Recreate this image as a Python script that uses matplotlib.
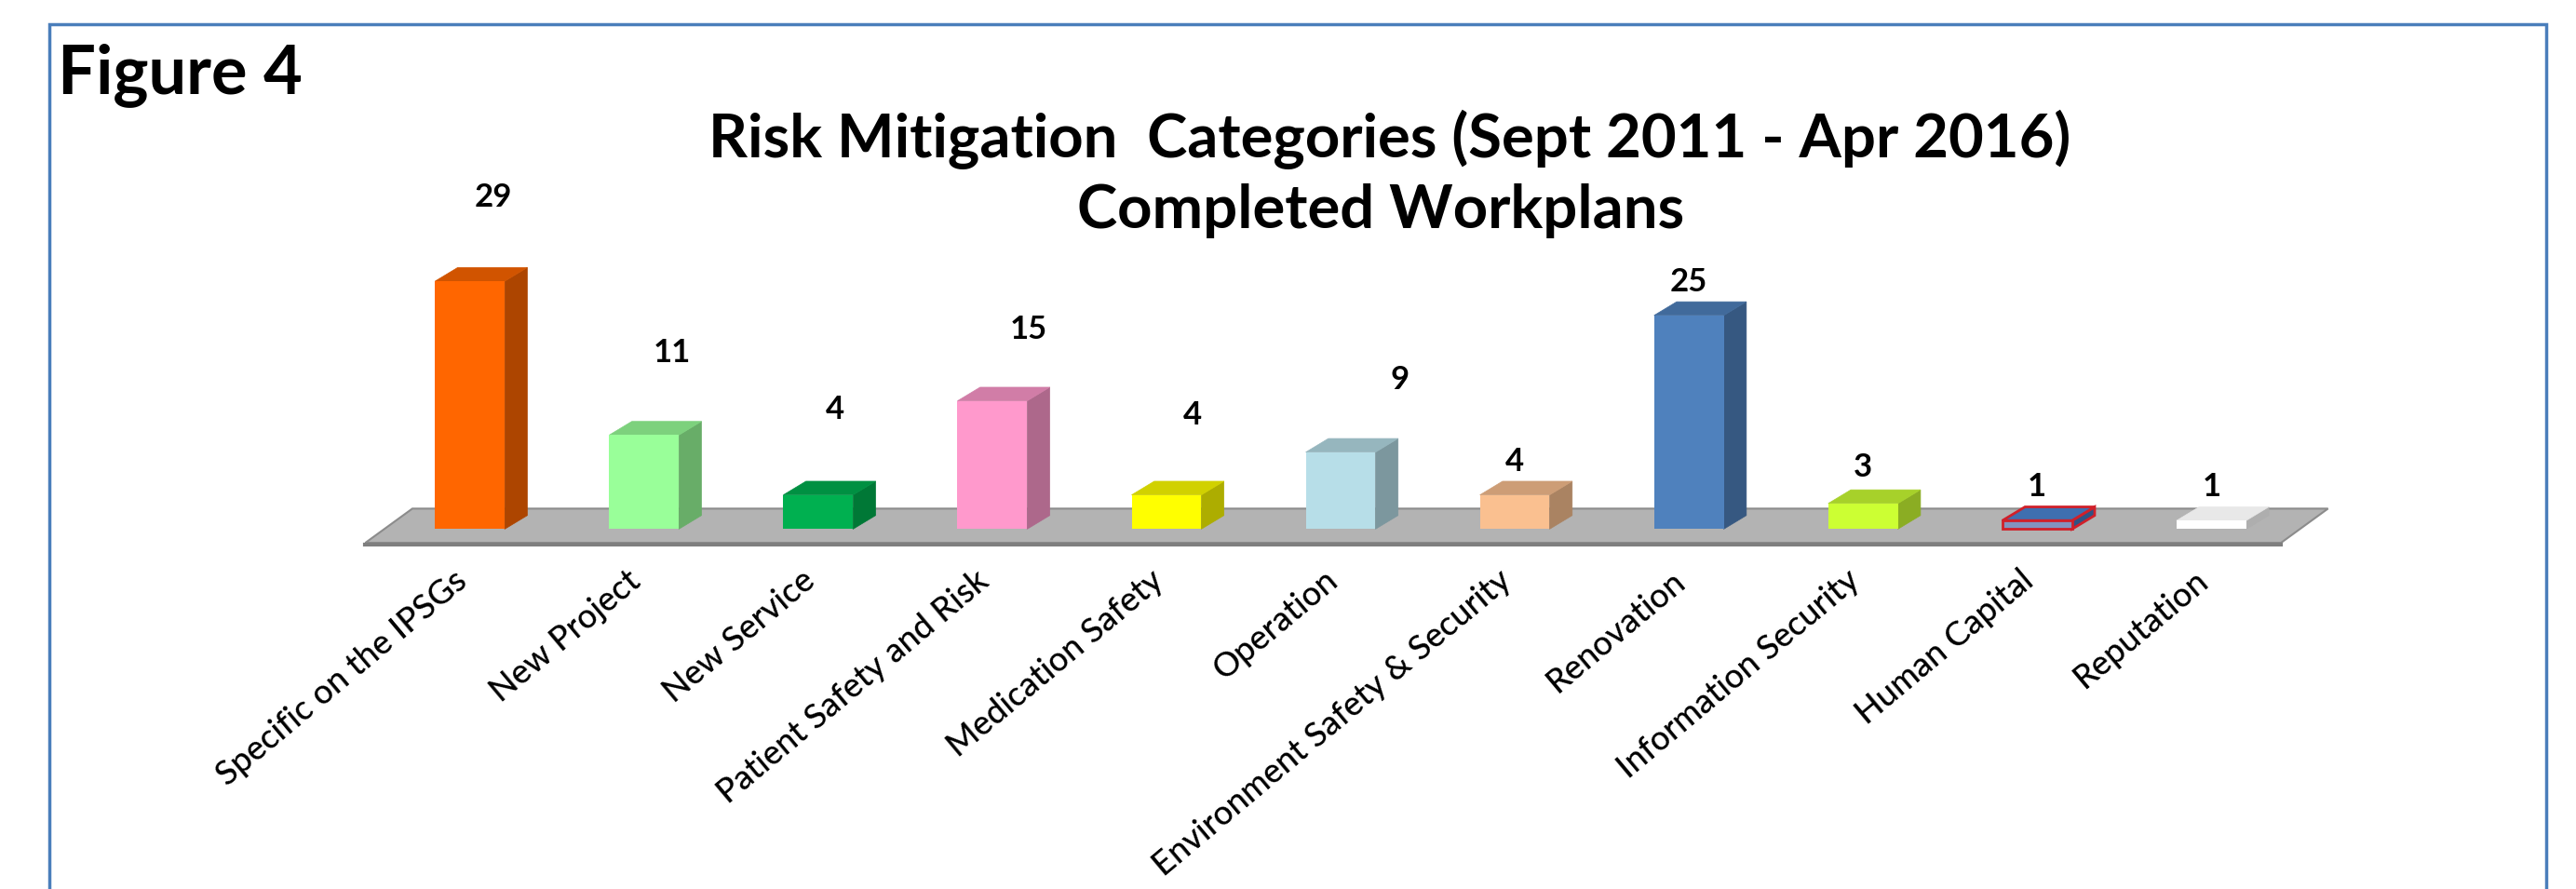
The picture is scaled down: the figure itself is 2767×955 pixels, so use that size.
import numpy as np
import matplotlib
matplotlib.use("Agg")
import matplotlib.pyplot as plt
from matplotlib.patches import Polygon, Rectangle
from matplotlib.colors import to_rgb

plt.rcParams['font.family'] = ['Lato', 'DejaVu Sans']

# data
categories = ["Specific on the IPSGs", "New Project", "New Service",
              "Patient Safety and Risk", "Medication Safety", "Operation",
              "Environment Safety & Security", "Renovation",
              "Information Security", "Human Capital", "Reputation"]
counts = [29, 11, 4, 15, 4, 9, 4, 25, 3, 1, 1]
colors = ["#FF6600", "#99FF99", "#00B050", "#FF99CC", "#FFFF00", "#B7DEE8",
          "#FAC090", "#4F81BD", "#CCFF33", "#8393BE", "#FFFFFF"]
top_colors = [None] * 9 + ["#3F6FB0", "#E8E8E8"]
edge_colors = [None] * 9 + ["#D0202A", None]
# label offsets in points (the source chart places them a bit loosely)
label_offsets = [(18, 65), (22, 64), (13, 66), (28, 55), (20, 62), (46, 56),
                 (0, 26), (0, 26), (0, 28), (0, 26), (0, 26)]

title1 = "Risk Mitigation  Categories (Sept 2011 - Apr 2016)"
title2 = "Completed Workplans"


def shade(c, f):
    r, g, b = to_rgb(c)
    return (r * f, g * f, b * f)


fig = plt.figure(figsize=(27.67, 9.55), dpi=100)
ax = fig.add_axes([0, 0, 1, 1])
ax.set_xlim(-2.698, 12.094)
ax.set_ylim(-42.1, 61.9)
ax.patch.set_visible(False)
for s in ax.spines.values():
    s.set_visible(False)
ax.set_yticks([])

n = len(categories)
x = np.arange(n)
width = 0.4
ddx, ddy = 0.13, 1.6     # bar depth
fdx, fdy = 0.27, 4.0     # floor depth

# floor
fy = -1.6
floor = Polygon([(-0.6, fy), (n - 0.6, fy), (n - 0.6 + fdx, fy + fdy),
                 (-0.6 + fdx, fy + fdy)], closed=True,
                facecolor="#B3B3B3", edgecolor="#8C8C8C", lw=1.5, zorder=1)
ax.add_patch(floor)
ax.plot([-0.6, n - 0.6], [fy - 0.25, fy - 0.25], color="#7F7F7F", lw=3, zorder=1)

# bars: front face via ax.bar, side and top faces as polygons
bars = ax.bar(x, counts, width=width, color=colors, zorder=3)
for b, c, tc, ec in zip(bars, colors, top_colors, edge_colors):
    x0 = b.get_x()
    x1 = x0 + b.get_width()
    h = b.get_height()
    side_c = shade(c, 0.68) if tc is None else shade(tc, 0.75)
    top_c = shade(c, 0.82) if tc is None else tc
    if ec is not None:
        b.set_edgecolor(ec)
        b.set_linewidth(2)
    side = Polygon([(x1, 0), (x1 + ddx, ddy), (x1 + ddx, h + ddy), (x1, h)],
                   closed=True, facecolor=side_c, edgecolor=ec or side_c,
                   lw=2 if ec else 0.5, zorder=2)
    top = Polygon([(x0, h), (x1, h), (x1 + ddx, h + ddy), (x0 + ddx, h + ddy)],
                  closed=True, facecolor=top_c, edgecolor=ec or top_c,
                  lw=2 if ec else 0.5, zorder=2)
    ax.add_patch(side)
    ax.add_patch(top)

# value labels
for xi, v, off in zip(x, counts, label_offsets):
    ax.annotate(str(v), (xi, v), xytext=off, textcoords="offset points",
                ha="center", va="center", fontsize=25, fontweight="bold")

# category labels on an axis moved up to the floor
ax.spines['bottom'].set_position(('data', -2.2))
ax.set_xticks(x - 0.1)
ax.set_xticklabels(categories, rotation=40, ha="right", va="top",
                   rotation_mode="anchor", fontsize=26, fontweight="medium")
ax.tick_params(axis="x", length=0, pad=13)

# titles
fig.text(0.0223, 0.895, "Figure 4", fontsize=52, fontweight="bold",
         ha="left", va="baseline")
fig.text(0.5395, 0.843, title1, fontsize=47, fontweight="bold",
         ha="center", va="center")
fig.text(0.536, 0.763, title2, fontsize=47, fontweight="bold",
         ha="center", va="center")

# blue frame
fig.patches.append(Rectangle((0.0191, -0.05), 0.9694, 1.0223,
                             transform=fig.transFigure, fill=False,
                             edgecolor="#4A7EBB", lw=2.5))

fig.savefig("out.png", dpi=100, facecolor="white")
